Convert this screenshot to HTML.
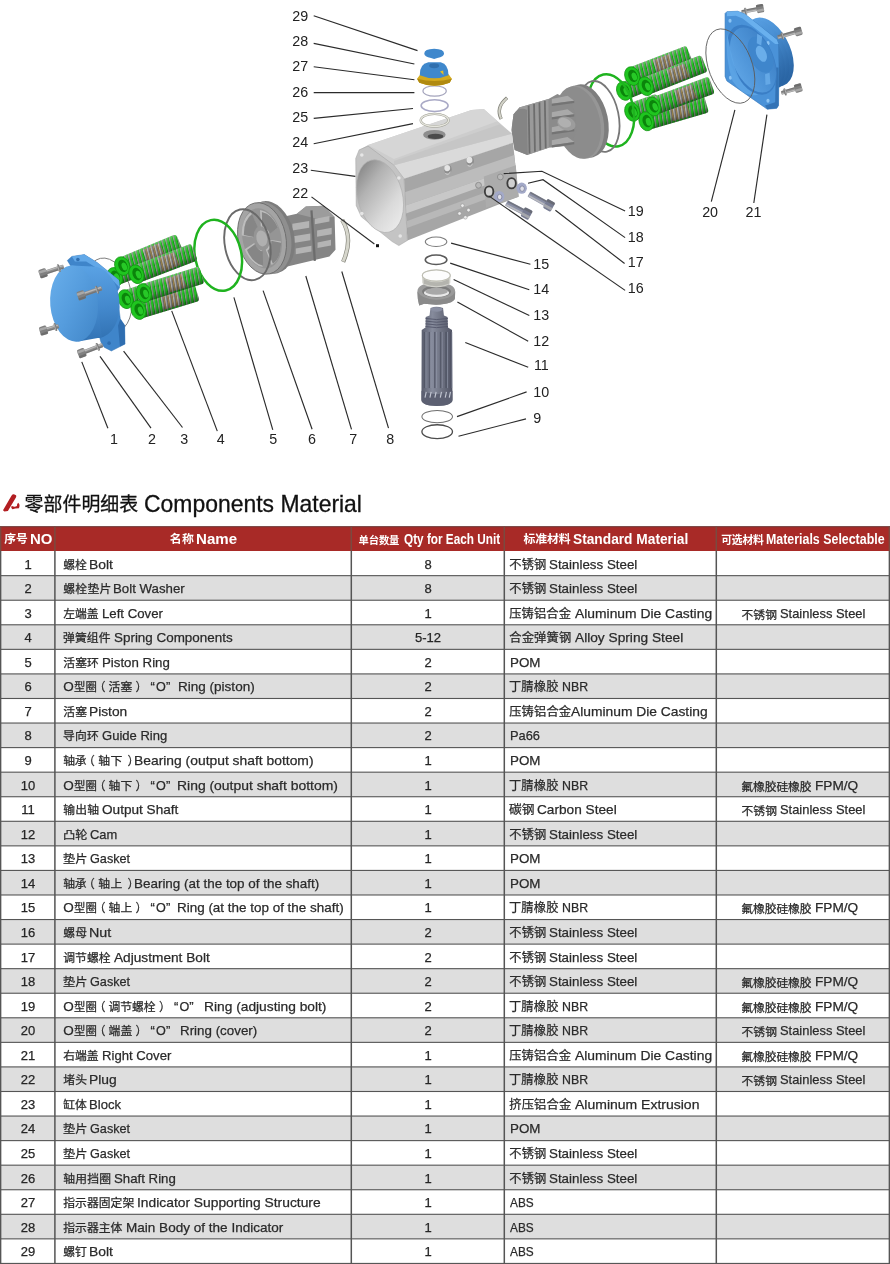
<!DOCTYPE html>
<html lang="zh-CN"><head><meta charset="utf-8"><title>零部件明细表 Components Material</title>
<style>
html,body{margin:0;padding:0;background:#fff}
body{width:890px;height:1264px;position:relative;overflow:hidden;font-family:"Liberation Sans","Noto Sans CJK SC",sans-serif;color:#222}
#diagram{position:absolute;left:0;top:0;width:890px;height:480px}
#grid{position:absolute;left:0;top:0;width:890px;height:1264px}
.s{position:absolute;white-space:pre;line-height:16px;color:#2a2a2a;transform-origin:0 50%;-webkit-text-stroke:0.25px #2a2a2a}
.n{position:absolute;white-space:pre;line-height:16px;color:#262626;font-size:13px;text-align:center;-webkit-text-stroke:0.25px #262626}
.h{position:absolute;white-space:pre;line-height:16px;color:#fff;font-weight:bold;transform-origin:0 50%}
.tt{position:absolute;white-space:pre;line-height:16px;color:#111;transform-origin:0 50%;-webkit-text-stroke:0.3px #111}
.row,.hdr,.ttl{position:absolute;left:0;top:0}
#sheet{position:absolute;left:0;top:0;width:890px;height:1264px;will-change:transform}
</style></head><body><div id="sheet">
<svg id="diagram" width="890" height="480" viewBox="0 0 890 480">
<defs>
<linearGradient id="gBlueFace" x1="0" y1="0" x2="1" y2="1">
 <stop offset="0" stop-color="#6ab0ec"/><stop offset="0.5" stop-color="#559cdd"/><stop offset="1" stop-color="#3f84c6"/>
</linearGradient>
<linearGradient id="gBlueSide" x1="0" y1="0" x2="0" y2="1">
 <stop offset="0" stop-color="#5aa2e4"/><stop offset="0.6" stop-color="#4388cc"/><stop offset="1" stop-color="#3273b4"/>
</linearGradient>
<linearGradient id="gBlueCyl" x1="0" y1="0" x2="1" y2="0.6">
 <stop offset="0" stop-color="#62aaec"/><stop offset="0.55" stop-color="#4a90d4"/><stop offset="1" stop-color="#2a65a4"/>
</linearGradient>
<linearGradient id="gBlueCav" x1="0" y1="1" x2="1" y2="0">
 <stop offset="0" stop-color="#62a8e8"/><stop offset="0.5" stop-color="#4c92d6"/><stop offset="1" stop-color="#3a7cc2"/>
</linearGradient>
<linearGradient id="gBore" x1="0.25" y1="0" x2="0.75" y2="1">
 <stop offset="0" stop-color="#848484"/><stop offset="0.3" stop-color="#b2b2b2"/><stop offset="0.7" stop-color="#dadada"/><stop offset="1" stop-color="#ececec"/>
</linearGradient>
<linearGradient id="gShaft" x1="0" y1="0" x2="1" y2="0">
 <stop offset="0" stop-color="#5a5e6e"/><stop offset="0.35" stop-color="#868b9c"/><stop offset="0.7" stop-color="#6a6e7e"/><stop offset="1" stop-color="#525566"/>
</linearGradient>
<linearGradient id="gPiston" x1="0" y1="0" x2="1" y2="1">
 <stop offset="0" stop-color="#a9a9a9"/><stop offset="1" stop-color="#7d7d7d"/>
</linearGradient>
<pattern id="pCoil" width="18" height="10" patternUnits="userSpaceOnUse" patternTransform="skewX(-8)">
 <rect x="0" y="0" width="18" height="10" fill="#585858"/>
 <rect x="0" y="0" width="3" height="10" fill="#d0d0d0"/>
 <rect x="3" y="0" width="5" height="10" fill="#8c8c8c"/>
 <rect x="12" y="0" width="4" height="10" fill="#b8923c"/>
</pattern>
<pattern id="pCoilG" width="18" height="10" patternUnits="userSpaceOnUse" patternTransform="skewX(-8)">
 <rect x="0" y="0" width="18" height="10" fill="#1fc01f"/>
 <rect x="0" y="0" width="2.5" height="10" fill="#b8b8b8"/>
 <rect x="2.5" y="0" width="4.5" height="10" fill="#747474"/>
 <rect x="15.5" y="0" width="2.5" height="10" fill="#0f800f"/>
</pattern>
<linearGradient id="gCoilShade" x1="0" y1="0" x2="0" y2="1">
 <stop offset="0" stop-color="#fff" stop-opacity="0.25"/><stop offset="0.35" stop-color="#fff" stop-opacity="0"/>
 <stop offset="0.7" stop-color="#000" stop-opacity="0.1"/><stop offset="1" stop-color="#000" stop-opacity="0.4"/>
</linearGradient>
</defs>
<g transform="translate(610,0) scale(0.22472)"><circle r="1" transform="matrix(108.30,58.42,2.85,141.07,709.50,230.50)" fill="url(#gBlueCyl)"/>
<circle r="1" transform="matrix(108.30,58.42,2.85,141.07,690.00,239.25)" fill="url(#gBlueCyl)"/>
<circle r="1" transform="matrix(108.30,58.42,2.85,141.07,670.50,248.00)" fill="url(#gBlueCyl)"/>
<circle r="1" transform="matrix(108.30,58.42,2.85,141.07,651.00,256.75)" fill="url(#gBlueCyl)"/>
<circle r="1" transform="matrix(108.30,58.42,2.85,141.07,631.50,265.50)" fill="url(#gBlueCyl)"/>
<g transform="translate(668,38) rotate(169.089)"><rect x="0" y="-8.5" width="84.5281" height="17" rx="4" fill="#8e8e8e"/><rect x="0" y="-6.5" width="81.5281" height="5.1" fill="#c8c8c8" opacity="0.75"/><rect x="0" y="3.4" width="81.5281" height="5.1" fill="#555" opacity="0.45"/><rect x="60.8602" y="-16.15" width="9" height="32.3" rx="4" fill="#7a7a7a"/><rect x="60.8602" y="-14.45" width="4" height="28.9" rx="2" fill="#b0b0b0"/><rect x="-16.15" y="-19" width="32.3" height="38" rx="7" fill="#808080"/><rect x="-16.15" y="-13.3" width="32.3" height="10.45" rx="3" fill="#b8b8b8" opacity="0.7"/><rect x="-16.15" y="8.55" width="32.3" height="9.5" rx="3" fill="#5a5a5a" opacity="0.5"/></g>
<g transform="translate(838,140) rotate(164.381)"><rect x="0" y="-8.5" width="96.566" height="17" rx="4" fill="#8e8e8e"/><rect x="0" y="-6.5" width="93.566" height="5.1" fill="#c8c8c8" opacity="0.75"/><rect x="0" y="3.4" width="93.566" height="5.1" fill="#555" opacity="0.45"/><rect x="69.5275" y="-16.15" width="9" height="32.3" rx="4" fill="#7a7a7a"/><rect x="69.5275" y="-14.45" width="4" height="28.9" rx="2" fill="#b0b0b0"/><rect x="-16.15" y="-19" width="32.3" height="38" rx="7" fill="#808080"/><rect x="-16.15" y="-13.3" width="32.3" height="10.45" rx="3" fill="#b8b8b8" opacity="0.7"/><rect x="-16.15" y="8.55" width="32.3" height="9.5" rx="3" fill="#5a5a5a" opacity="0.5"/></g>
<g transform="translate(838,392) rotate(163.856)"><rect x="0" y="-8.5" width="79.1202" height="17" rx="4" fill="#8e8e8e"/><rect x="0" y="-6.5" width="76.1202" height="5.1" fill="#c8c8c8" opacity="0.75"/><rect x="0" y="3.4" width="76.1202" height="5.1" fill="#555" opacity="0.45"/><rect x="56.9665" y="-16.15" width="9" height="32.3" rx="4" fill="#7a7a7a"/><rect x="56.9665" y="-14.45" width="4" height="28.9" rx="2" fill="#b0b0b0"/><rect x="-16.15" y="-19" width="32.3" height="38" rx="7" fill="#808080"/><rect x="-16.15" y="-13.3" width="32.3" height="10.45" rx="3" fill="#b8b8b8" opacity="0.7"/><rect x="-16.15" y="8.55" width="32.3" height="9.5" rx="3" fill="#5a5a5a" opacity="0.5"/></g>
<path d="M512,60 L520,52 L568,50 L600,62 L742,176 L750,196 L752,300 L750,470 L742,482 L700,486 L520,360 L512,340 Z" fill="#4a92d8" stroke="#3576b8" stroke-width="2.5" stroke-linejoin="round"/>
<path d="M520,52 L568,50 L600,62 L742,176 L750,196 L735,196 L590,82 L560,70 L520,72 Z" fill="#69b0ee"/>
<path d="M750,300 L750,470 L742,482 L700,486 L690,470 L735,455 L738,300 Z" fill="#3373b6"/>
<ellipse cx="534" cy="92" rx="7" ry="9" fill="#8cc4f4"/>
<ellipse cx="703" cy="192" rx="7" ry="9" fill="#8cc4f4"/>
<ellipse cx="703" cy="448" rx="7" ry="9" fill="#8cc4f4"/>
<ellipse cx="536" cy="346" rx="7" ry="9" fill="#8cc4f4"/>
<circle r="1" transform="matrix(110.58,59.66,2.91,144.04,631.50,265.50)" fill="#3a7ec6"/>
<circle r="1" transform="matrix(102.60,55.35,2.70,133.65,636.50,267.50)" fill="url(#gBlueCav)"/>
<circle r="1" transform="matrix(57.00,30.75,1.50,74.25,669.50,243.50)" fill="#3f86cc"/>
<circle r="1" transform="matrix(25.08,13.53,0.66,32.67,673.50,239.50)" fill="#6aaeea"/>
<path d="M655,150 l22,12 l-4,40 l-20,-10 Z" fill="#64a8e6"/>
<path d="M690,330 l20,-6 l4,50 l-22,4 Z" fill="#64a8e6"/>
<path d="M521,150 Q512,260 545,360 Q600,440 660,420 Q585,400 556,300 Q535,220 521,150 Z" fill="#5ea6e6" opacity="0.85"/>
<circle r="1" transform="matrix(109.00,58.00,3.00,155.00,535.50,294.00)" fill="none" stroke="#5c5c5c" stroke-width="0.028"/>
<g transform="translate(63,404.75) rotate(-21.78)"><rect x="0" y="-40" width="115.224" height="80" rx="14" fill="url(#pCoilG)"/><rect x="0" y="-40" width="115.224" height="80" rx="14" fill="url(#gCoilShade)"/><ellipse cx="0" cy="0" rx="32.68" ry="43" fill="#1fc51f" stroke="#128f12" stroke-width="3"/><ellipse cx="3" cy="0" rx="19.78" ry="28.38" fill="#0b840b"/><ellipse cx="8" cy="5" rx="11.18" ry="18.06" fill="#27c827"/></g>
<g transform="translate(99,338.75) rotate(-21.22)"><rect x="0" y="-40" width="273.543" height="80" rx="14" fill="url(#pCoilG)"/><rect x="109.417" y="-32" width="82.063" height="64" fill="url(#pCoil)"/><rect x="0" y="-40" width="273.543" height="80" rx="14" fill="url(#gCoilShade)"/><ellipse cx="0" cy="0" rx="32.68" ry="43" fill="#1fc51f" stroke="#128f12" stroke-width="3"/><ellipse cx="3" cy="0" rx="19.78" ry="28.38" fill="#0b840b"/><ellipse cx="8" cy="5" rx="11.18" ry="18.06" fill="#27c827"/></g>
<g transform="translate(99,497.75) rotate(-19.46)"><rect x="0" y="-40" width="128.33" height="80" rx="14" fill="url(#pCoilG)"/><rect x="0" y="-40" width="128.33" height="80" rx="14" fill="url(#gCoilShade)"/><ellipse cx="0" cy="0" rx="32.68" ry="43" fill="#1fc51f" stroke="#128f12" stroke-width="3"/><ellipse cx="3" cy="0" rx="19.78" ry="28.38" fill="#0b840b"/><ellipse cx="8" cy="5" rx="11.18" ry="18.06" fill="#27c827"/></g>
<g transform="translate(159,383.75) rotate(-21.35)"><rect x="0" y="-40" width="280.223" height="80" rx="14" fill="url(#pCoilG)"/><rect x="112.089" y="-32" width="84.0669" height="64" fill="url(#pCoil)"/><rect x="0" y="-40" width="280.223" height="80" rx="14" fill="url(#gCoilShade)"/><ellipse cx="0" cy="0" rx="32.68" ry="43" fill="#1fc51f" stroke="#128f12" stroke-width="3"/><ellipse cx="3" cy="0" rx="19.78" ry="28.38" fill="#0b840b"/><ellipse cx="8" cy="5" rx="11.18" ry="18.06" fill="#27c827"/></g>
<g transform="translate(162,539.75) rotate(-16.28)"><rect x="0" y="-40" width="278.16" height="80" rx="14" fill="url(#pCoilG)"/><rect x="111.264" y="-32" width="83.448" height="64" fill="url(#pCoil)"/><rect x="0" y="-40" width="278.16" height="80" rx="14" fill="url(#gCoilShade)"/><ellipse cx="0" cy="0" rx="32.68" ry="43" fill="#1fc51f" stroke="#128f12" stroke-width="3"/><ellipse cx="3" cy="0" rx="19.78" ry="28.38" fill="#0b840b"/><ellipse cx="8" cy="5" rx="11.18" ry="18.06" fill="#27c827"/></g>
<g transform="translate(192,473.75) rotate(-20.19)"><rect x="0" y="-40" width="278.095" height="80" rx="14" fill="url(#pCoilG)"/><rect x="111.238" y="-32" width="83.4286" height="64" fill="url(#pCoil)"/><rect x="0" y="-40" width="278.095" height="80" rx="14" fill="url(#gCoilShade)"/><ellipse cx="0" cy="0" rx="32.68" ry="43" fill="#1fc51f" stroke="#128f12" stroke-width="3"/><ellipse cx="3" cy="0" rx="19.78" ry="28.38" fill="#0b840b"/><ellipse cx="8" cy="5" rx="11.18" ry="18.06" fill="#27c827"/></g></g>
<g transform="translate(490,40) scale(0.22472)"><path d="M76,257 Q24,300 50,352" fill="none" stroke="#808078" stroke-width="15"/>
<path d="M75,259 Q25,300 50,350" fill="none" stroke="#d2d2c8" stroke-width="9"/>
<ellipse cx="538" cy="313" rx="100" ry="163" transform="rotate(-12 538 313)" fill="none" stroke="#1fb31f" stroke-width="11"/>
<ellipse cx="487" cy="340" rx="85" ry="160" transform="rotate(-12 487 340)" fill="none" stroke="#777" stroke-width="8"/>
<ellipse cx="425" cy="360" rx="100" ry="165" transform="rotate(-12 425 360)" fill="#7e7e7e"/>
<ellipse cx="405" cy="365" rx="100" ry="165" transform="rotate(-12 405 365)" fill="#969696"/>
<ellipse cx="392" cy="368" rx="98" ry="163" transform="rotate(-12 392 368)" fill="#8c8c8c"/>
<path d="M105,330 L130,300 L260,262 L300,240 L360,270 L380,330 L385,400 L360,470 L260,480 L165,512 L110,490 L95,400 Z" fill="#8b8b8b"/>
<path d="M130,300 L260,262 L262,480 L165,512 L150,400 Z" fill="#9a9a9a"/>
<path d="M172,292 L176,505" stroke="#6d6d6d" stroke-width="8"/>
<path d="M196,284.8 L200,497.08" stroke="#6d6d6d" stroke-width="8"/>
<path d="M220,277.6 L224,489.16" stroke="#6d6d6d" stroke-width="8"/>
<path d="M244,270.4 L248,481.24" stroke="#6d6d6d" stroke-width="8"/>
<path d="M105,330 Q130,295 165,310 L168,512 L110,490 Q90,410 105,330 Z" fill="#858585"/>
<path d="M275,262 l70,-14 l30,22 l-100,14 Z" fill="#a9a9a9"/>
<path d="M275,284 l100,-14 l0,10 l-100,14 Z" fill="#747474"/>
<path d="M275,322 l70,-14 l30,22 l-100,14 Z" fill="#a9a9a9"/>
<path d="M275,344 l100,-14 l0,10 l-100,14 Z" fill="#747474"/>
<path d="M275,388 l70,-14 l30,22 l-100,14 Z" fill="#a9a9a9"/>
<path d="M275,410 l100,-14 l0,10 l-100,14 Z" fill="#747474"/>
<path d="M275,446 l70,-14 l30,22 l-100,14 Z" fill="#a9a9a9"/>
<path d="M275,468 l100,-14 l0,10 l-100,14 Z" fill="#747474"/>
<ellipse cx="340" cy="372" rx="42" ry="30" transform="rotate(20 340 372)" fill="#9c9c9c"/>
<ellipse cx="332" cy="368" rx="30" ry="20" transform="rotate(20 332 368)" fill="#b0b0b0"/></g>
<g transform="translate(340,100) scale(0.22472)"><path d="M85,222 L125,200 L585,45 L640,40 L765,150 L770,190 L285,350 L240,290 Z" fill="#cdcdcd"/>
<path d="M125,200 L585,45 L640,40 L700,95 L240,262 Z" fill="#d6d6d6"/>
<path d="M240,290 L765,150 L770,190 L285,350 Z" fill="#dadada"/>
<path d="M240,272 L712,108 L765,150 L240,290 Z" fill="#c6c6c6"/>
<path d="M285,350 L770,190 L795,430 L300,625 Z" fill="#a6a6a6"/>
<path d="M288,410 L775,245 L782,300 L292,470 Z" fill="#bcbcbc"/>
<path d="M292,470 L782,300 L786,330 L294,505 Z" fill="#c8c8c8"/>
<path d="M296,540 L650,410 L652,440 L298,570 Z" fill="#b8b8b8"/>
<path d="M640,340 L782,290 L795,430 L650,480 Z" fill="#acacac"/>
<path d="M85,222 L125,205 L240,290 L285,350 L300,625 L262,648 L232,630 L95,520 L72,470 L70,260 Z" fill="#c4c4c4" stroke="#9a9a9a" stroke-width="2"/>
<ellipse cx="178" cy="428" rx="100" ry="165" transform="rotate(-14 178 428)" fill="url(#gBore)" stroke="#b0b0b0" stroke-width="3"/>
<ellipse cx="420" cy="155" rx="50" ry="22" fill="#8e8e8e"/>
<ellipse cx="425" cy="162" rx="35" ry="12" fill="#4a4a4a"/>
<ellipse cx="480" cy="308" rx="17" ry="19" fill="#8e8e8e"/>
<ellipse cx="477" cy="303" rx="13" ry="14" fill="#e4e4e4"/>
<path d="M469,327 q14,10 22,-8" stroke="#d8d8d8" stroke-width="4" fill="none"/>
<ellipse cx="579" cy="272" rx="17" ry="19" fill="#8e8e8e"/>
<ellipse cx="576" cy="267" rx="13" ry="14" fill="#e4e4e4"/>
<path d="M568,291 q14,10 22,-8" stroke="#d8d8d8" stroke-width="4" fill="none"/>
<circle cx="532" cy="505" r="8" fill="#ececec" stroke="#909090" stroke-width="2.5"/>
<circle cx="572" cy="490" r="8" fill="#ececec" stroke="#909090" stroke-width="2.5"/>
<circle cx="545" cy="470" r="8" fill="#ececec" stroke="#909090" stroke-width="2.5"/>
<circle cx="558" cy="522" r="8" fill="#ececec" stroke="#909090" stroke-width="2.5"/>
<circle cx="97" cy="245" r="8" fill="#e6e6e6"/>
<circle cx="262" cy="347" r="8" fill="#e6e6e6"/>
<circle cx="97" cy="505" r="8" fill="#e6e6e6"/>
<circle cx="268" cy="605" r="8" fill="#e6e6e6"/></g>
<g transform="translate(280,0) scale(0.22472)"><ellipse cx="688" cy="535" rx="62" ry="28" fill="none" stroke="#9b9b90" stroke-width="10"/>
<ellipse cx="688" cy="535" rx="62" ry="28" fill="none" stroke="#e6e6de" stroke-width="6"/>
<ellipse cx="688" cy="470" rx="60" ry="26" fill="none" stroke="#a9a9c6" stroke-width="7"/>
<ellipse cx="688" cy="405" rx="52" ry="23" fill="none" stroke="#a4a4bc" stroke-width="5"/>
<path d="M610,350 L625,330 L750,330 L765,350 L755,368 Q688,395 620,368 Z" fill="#d4aa1e"/>
<path d="M610,350 Q688,372 765,350 L755,368 Q688,395 620,368 Z" fill="#b08a10"/>
<path d="M622,335 Q620,285 660,277 L715,277 Q750,285 750,335 Q688,362 622,335 Z" fill="#3f88cc"/>
<ellipse cx="686" cy="293" rx="22" ry="11" fill="#2f6fae"/>
<path d="M712,318 l14,-4 l2,20 Z" fill="#e8c020"/>
<path d="M642,238 Q642,218 686,217 Q730,218 730,238 Q730,252 700,258 L686,262 L672,258 Q642,252 642,238 Z" fill="#3f88cc"/></g>
<g transform="translate(180,180) scale(0.22472)"><path d="M722,178 Q772,262 726,364" fill="none" stroke="#84847a" stroke-width="19"/>
<path d="M722,180 Q772,262 726,362" fill="none" stroke="#d6d6cc" stroke-width="13"/>
<path d="M455,165 L520,150 L560,118 L640,115 L688,165 L692,310 L665,340 L515,376 L455,390 Z" fill="#858585"/>
<path d="M520,150 L560,118 L640,115 L688,165 L600,170 Z" fill="#9c9c9c"/>
<path d="M500,195 l75,-12 l0,30 l-75,12 Z" fill="#b4b4b4"/>
<path d="M505,250 l75,-12 l0,30 l-75,12 Z" fill="#b4b4b4"/>
<path d="M515,305 l70,-12 l0,25 l-70,12 Z" fill="#b4b4b4"/>
<path d="M600,172 l65,-12 l0,25 l-65,12 Z" fill="#b4b4b4"/>
<path d="M610,225 l65,-12 l0,28 l-65,12 Z" fill="#b4b4b4"/>
<path d="M612,278 l60,-12 l0,25 l-60,12 Z" fill="#b4b4b4"/>
<path d="M585,135 L600,360" stroke="#6c6c6c" stroke-width="10" fill="none"/>
<ellipse cx="400" cy="255" rx="108" ry="163" transform="rotate(-12 400 255)" fill="#7c7c7c"/>
<ellipse cx="385" cy="258" rx="108" ry="163" transform="rotate(-12 385 258)" fill="#8f8f8f"/>
<ellipse cx="365" cy="260" rx="106" ry="161" transform="rotate(-12 365 260)" fill="#a4a4a4" stroke="#6e6e6e" stroke-width="4"/>
<ellipse cx="365" cy="260" rx="86" ry="136" transform="rotate(-12 365 260)" fill="#959595"/>
<ellipse cx="364" cy="260" rx="24" ry="36" transform="rotate(-12 364 260)" fill="#b0b0b0"/>
<path d="M0.330,0.082 L0.776,0.194 A0.800,0.800 0 0 1 0.194,0.776 L0.082,0.330 A0.340,0.340 0 0 0 0.330,0.082 Z" transform="matrix(103.7,-22,33.5,157.5,362,260)" fill="#bdbdbd"/>
<path d="M0.346,0.099 L0.731,0.209 A0.760,0.760 0 0 1 0.209,0.731 L0.099,0.346 A0.360,0.360 0 0 0 0.346,0.099 Z" transform="matrix(103.7,-22,33.5,157.5,367,262)" fill="#868686"/>
<path d="M-0.082,0.330 L-0.194,0.776 A0.800,0.800 0 0 1 -0.776,0.194 L-0.330,0.082 A0.340,0.340 0 0 0 -0.082,0.330 Z" transform="matrix(103.7,-22,33.5,157.5,362,260)" fill="#bdbdbd"/>
<path d="M-0.099,0.346 L-0.209,0.731 A0.760,0.760 0 0 1 -0.731,0.209 L-0.346,0.099 A0.360,0.360 0 0 0 -0.099,0.346 Z" transform="matrix(103.7,-22,33.5,157.5,367,262)" fill="#868686"/>
<path d="M-0.330,-0.082 L-0.776,-0.194 A0.800,0.800 0 0 1 -0.194,-0.776 L-0.082,-0.330 A0.340,0.340 0 0 0 -0.330,-0.082 Z" transform="matrix(103.7,-22,33.5,157.5,362,260)" fill="#bdbdbd"/>
<path d="M-0.346,-0.099 L-0.731,-0.209 A0.760,0.760 0 0 1 -0.209,-0.731 L-0.099,-0.346 A0.360,0.360 0 0 0 -0.346,-0.099 Z" transform="matrix(103.7,-22,33.5,157.5,367,262)" fill="#868686"/>
<path d="M0.082,-0.330 L0.194,-0.776 A0.800,0.800 0 0 1 0.776,-0.194 L0.330,-0.082 A0.340,0.340 0 0 0 0.082,-0.330 Z" transform="matrix(103.7,-22,33.5,157.5,362,260)" fill="#bdbdbd"/>
<path d="M0.099,-0.346 L0.209,-0.731 A0.760,0.760 0 0 1 0.731,-0.209 L0.346,-0.099 A0.360,0.360 0 0 0 0.099,-0.346 Z" transform="matrix(103.7,-22,33.5,157.5,367,262)" fill="#868686"/>
<ellipse cx="300" cy="288" rx="100" ry="160" transform="rotate(-12 300 288)" fill="none" stroke="#6a6a6a" stroke-width="8.5"/>
<ellipse cx="170" cy="335" rx="103" ry="160" transform="rotate(-12 170 335)" fill="none" stroke="#1fb31f" stroke-width="11"/></g>
<g transform="translate(30,220) scale(0.22472)"><ellipse cx="348" cy="335" rx="103" ry="168" transform="rotate(-12 348 335)" fill="none" stroke="#7a7a7a" stroke-width="4"/>
<g transform="translate(377.5,253.3) rotate(-21.95)"><rect x="0" y="-40" width="110.508" height="80" rx="14" fill="url(#pCoilG)"/><rect x="0" y="-40" width="110.508" height="80" rx="14" fill="url(#gCoilShade)"/><ellipse cx="0" cy="0" rx="32.68" ry="43" fill="#1fc51f" stroke="#128f12" stroke-width="3"/><ellipse cx="3" cy="0" rx="19.78" ry="28.38" fill="#0b840b"/><ellipse cx="8" cy="5" rx="11.18" ry="18.06" fill="#27c827"/></g>
<g transform="translate(410.5,205.3) rotate(-22.44)"><rect x="0" y="-40" width="275.886" height="80" rx="14" fill="url(#pCoilG)"/><rect x="110.354" y="-32" width="82.7658" height="64" fill="url(#pCoil)"/><rect x="0" y="-40" width="275.886" height="80" rx="14" fill="url(#gCoilShade)"/><ellipse cx="0" cy="0" rx="32.68" ry="43" fill="#1fc51f" stroke="#128f12" stroke-width="3"/><ellipse cx="3" cy="0" rx="19.78" ry="28.38" fill="#0b840b"/><ellipse cx="8" cy="5" rx="11.18" ry="18.06" fill="#27c827"/></g>
<g transform="translate(425.5,352.3) rotate(-18.04)"><rect x="0" y="-40" width="120.422" height="80" rx="14" fill="url(#pCoilG)"/><rect x="0" y="-40" width="120.422" height="80" rx="14" fill="url(#gCoilShade)"/><ellipse cx="0" cy="0" rx="32.68" ry="43" fill="#1fc51f" stroke="#128f12" stroke-width="3"/><ellipse cx="3" cy="0" rx="19.78" ry="28.38" fill="#0b840b"/><ellipse cx="8" cy="5" rx="11.18" ry="18.06" fill="#27c827"/></g>
<g transform="translate(473.5,241.3) rotate(-21.05)"><rect x="0" y="-40" width="276.45" height="80" rx="14" fill="url(#pCoilG)"/><rect x="110.58" y="-32" width="82.9349" height="64" fill="url(#pCoil)"/><rect x="0" y="-40" width="276.45" height="80" rx="14" fill="url(#gCoilShade)"/><ellipse cx="0" cy="0" rx="32.68" ry="43" fill="#1fc51f" stroke="#128f12" stroke-width="3"/><ellipse cx="3" cy="0" rx="19.78" ry="28.38" fill="#0b840b"/><ellipse cx="8" cy="5" rx="11.18" ry="18.06" fill="#27c827"/></g>
<g transform="translate(482.5,400.3) rotate(-16.70)"><rect x="0" y="-40" width="272.492" height="80" rx="14" fill="url(#pCoilG)"/><rect x="108.997" y="-32" width="81.7476" height="64" fill="url(#pCoil)"/><rect x="0" y="-40" width="272.492" height="80" rx="14" fill="url(#gCoilShade)"/><ellipse cx="0" cy="0" rx="32.68" ry="43" fill="#1fc51f" stroke="#128f12" stroke-width="3"/><ellipse cx="3" cy="0" rx="19.78" ry="28.38" fill="#0b840b"/><ellipse cx="8" cy="5" rx="11.18" ry="18.06" fill="#27c827"/></g>
<g transform="translate(506.5,325.3) rotate(-17.49)"><rect x="0" y="-40" width="270.506" height="80" rx="14" fill="url(#pCoilG)"/><rect x="108.203" y="-32" width="81.1519" height="64" fill="url(#pCoil)"/><rect x="0" y="-40" width="270.506" height="80" rx="14" fill="url(#gCoilShade)"/><ellipse cx="0" cy="0" rx="32.68" ry="43" fill="#1fc51f" stroke="#128f12" stroke-width="3"/><ellipse cx="3" cy="0" rx="19.78" ry="28.38" fill="#0b840b"/><ellipse cx="8" cy="5" rx="11.18" ry="18.06" fill="#27c827"/></g>
<path d="M166,180 L186,162 L242,154 L300,190 L396,268 L399,300 L386,322 L402,440 L421,468 L423,552 L362,583 L330,566 L316,545 L250,300 L200,235 Z" fill="#3f85ca" stroke="#2f6fb0" stroke-width="2"/>
<path d="M186,162 L242,154 L300,190 L396,268 L399,300 L340,240 L250,185 L200,185 Z" fill="#62a8e8"/>
<path d="M402,440 L421,468 L423,552 L400,563 L392,470 Z" fill="#2f6eb0"/>
<circle cx="213" cy="176" r="8" fill="#2f6eb0"/>
<circle cx="352" cy="548" r="8" fill="#2f6eb0"/>
<circle cx="362" cy="282" r="8" fill="#2f6eb0"/>
<ellipse cx="290" cy="366" rx="108" ry="160" transform="rotate(-6 290 366)" fill="url(#gBlueSide)"/>
<path d="M185,203 L275,207 L320,522 L215,541 Z" fill="url(#gBlueSide)"/>
<ellipse cx="196" cy="372" rx="106" ry="170" transform="rotate(-5 196 372)" fill="url(#gBlueFace)"/>
<g transform="translate(58,237) rotate(-18.0605)"><rect x="0" y="-9.5" width="96.7678" height="19" rx="4" fill="#8e8e8e"/><rect x="0" y="-7.5" width="93.7678" height="5.7" fill="#c8c8c8" opacity="0.75"/><rect x="0" y="3.8" width="93.7678" height="5.7" fill="#555" opacity="0.45"/><rect x="69.6728" y="-18.05" width="9" height="36.1" rx="4" fill="#7a7a7a"/><rect x="69.6728" y="-16.15" width="4" height="32.3" rx="2" fill="#b0b0b0"/><rect x="-17" y="-20" width="34" height="40" rx="7" fill="#808080"/><rect x="-17" y="-14" width="34" height="11" rx="3" fill="#b8b8b8" opacity="0.7"/><rect x="-17" y="9" width="34" height="10" rx="3" fill="#5a5a5a" opacity="0.5"/></g>
<g transform="translate(228,335) rotate(-19.179)"><rect x="0" y="-9.5" width="97.4064" height="19" rx="4" fill="#8e8e8e"/><rect x="0" y="-7.5" width="94.4064" height="5.7" fill="#c8c8c8" opacity="0.75"/><rect x="0" y="3.8" width="94.4064" height="5.7" fill="#555" opacity="0.45"/><rect x="70.1326" y="-18.05" width="9" height="36.1" rx="4" fill="#7a7a7a"/><rect x="70.1326" y="-16.15" width="4" height="32.3" rx="2" fill="#b0b0b0"/><rect x="-17" y="-20" width="34" height="40" rx="7" fill="#808080"/><rect x="-17" y="-14" width="34" height="11" rx="3" fill="#b8b8b8" opacity="0.7"/><rect x="-17" y="9" width="34" height="10" rx="3" fill="#5a5a5a" opacity="0.5"/></g>
<g transform="translate(60,492) rotate(-16.3895)"><rect x="0" y="-9.5" width="70.8802" height="19" rx="4" fill="#8e8e8e"/><rect x="0" y="-7.5" width="67.8802" height="5.7" fill="#c8c8c8" opacity="0.75"/><rect x="0" y="3.8" width="67.8802" height="5.7" fill="#555" opacity="0.45"/><rect x="51.0337" y="-18.05" width="9" height="36.1" rx="4" fill="#7a7a7a"/><rect x="51.0337" y="-16.15" width="4" height="32.3" rx="2" fill="#b0b0b0"/><rect x="-17" y="-20" width="34" height="40" rx="7" fill="#808080"/><rect x="-17" y="-14" width="34" height="11" rx="3" fill="#b8b8b8" opacity="0.7"/><rect x="-17" y="9" width="34" height="10" rx="3" fill="#5a5a5a" opacity="0.5"/></g>
<g transform="translate(230,592) rotate(-20.9558)"><rect x="0" y="-9.5" width="100.658" height="19" rx="4" fill="#8e8e8e"/><rect x="0" y="-7.5" width="97.6578" height="5.7" fill="#c8c8c8" opacity="0.75"/><rect x="0" y="3.8" width="97.6578" height="5.7" fill="#555" opacity="0.45"/><rect x="72.4736" y="-18.05" width="9" height="36.1" rx="4" fill="#7a7a7a"/><rect x="72.4736" y="-16.15" width="4" height="32.3" rx="2" fill="#b0b0b0"/><rect x="-17" y="-20" width="34" height="40" rx="7" fill="#808080"/><rect x="-17" y="-14" width="34" height="11" rx="3" fill="#b8b8b8" opacity="0.7"/><rect x="-17" y="9" width="34" height="10" rx="3" fill="#5a5a5a" opacity="0.5"/></g></g>
<g transform="translate(390,220) scale(0.22472)"><ellipse cx="205" cy="97" rx="48" ry="21" fill="none" stroke="#7a7a7a" stroke-width="4.5"/>
<ellipse cx="205" cy="177" rx="48" ry="21" fill="none" stroke="#5a5a5a" stroke-width="7"/>
<path d="M122,318 Q122,280 205,278 Q290,280 290,318 L289,348 Q282,374 205,377 L152,373 L130,381 L124,352 Z" fill="#9a9a9a"/>
<path d="M122,318 Q140,352 205,355 Q275,352 290,318 L289,348 Q282,374 205,377 L152,373 L130,381 L124,352 Z" fill="#8a8a8a"/>
<ellipse cx="207" cy="318" rx="64" ry="27" fill="#7c7c7c"/>
<ellipse cx="207" cy="324" rx="56" ry="19" fill="#e9e9e9"/>
<ellipse cx="207" cy="318" rx="50" ry="15" fill="#a8a8a8"/>
<path d="M142,246 Q142,222 206,221 Q270,222 270,246 L268,282 Q250,300 206,300 Q160,300 144,282 Z" fill="#d2d2cc"/>
<path d="M150,262 Q206,292 262,262 L262,284 Q206,306 150,284 Z" fill="#b4b4ae"/>
<ellipse cx="206" cy="247" rx="62" ry="25" fill="#fdfdfd" stroke="#bdbdb2" stroke-width="5"/>
<path d="M180,392 Q205,380 236,392 L240,425 L256,432 L258,478 L276,490 L278,800 Q278,826 208,828 Q140,826 140,800 L141,490 L158,478 L159,432 L176,425 Z" fill="url(#gShaft)"/>
<path d="M158,438 Q207,448 258,438" stroke="#52566a" stroke-width="4" fill="none"/>
<path d="M158,450 Q207,460 258,450" stroke="#52566a" stroke-width="4" fill="none"/>
<path d="M158,462 Q207,472 258,462" stroke="#52566a" stroke-width="4" fill="none"/>
<path d="M158,474 Q207,484 258,474" stroke="#52566a" stroke-width="4" fill="none"/>
<rect x="150" y="498" width="7" height="250" fill="#4e5262" opacity="0.75"/>
<rect x="158" y="498" width="4" height="250" fill="#9aa0b2" opacity="0.6"/>
<rect x="172" y="498" width="7" height="250" fill="#4e5262" opacity="0.75"/>
<rect x="180" y="498" width="4" height="250" fill="#9aa0b2" opacity="0.6"/>
<rect x="196" y="498" width="7" height="250" fill="#4e5262" opacity="0.75"/>
<rect x="204" y="498" width="4" height="250" fill="#9aa0b2" opacity="0.6"/>
<rect x="222" y="498" width="7" height="250" fill="#4e5262" opacity="0.75"/>
<rect x="230" y="498" width="4" height="250" fill="#9aa0b2" opacity="0.6"/>
<rect x="246" y="498" width="7" height="250" fill="#4e5262" opacity="0.75"/>
<rect x="254" y="498" width="4" height="250" fill="#9aa0b2" opacity="0.6"/>
<rect x="266" y="498" width="7" height="250" fill="#4e5262" opacity="0.75"/>
<rect x="274" y="498" width="4" height="250" fill="#9aa0b2" opacity="0.6"/>
<path d="M140,760 Q208,790 278,760 L278,800 Q278,826 208,828 Q140,826 140,800 Z" fill="#5c6072"/>
<rect x="156" y="764" width="5" height="26" fill="#c4c8d4" transform="rotate(12 156 777)"/>
<rect x="178" y="764" width="5" height="26" fill="#c4c8d4" transform="rotate(12 178 777)"/>
<rect x="200" y="764" width="5" height="26" fill="#c4c8d4" transform="rotate(12 200 777)"/>
<rect x="224" y="764" width="5" height="26" fill="#c4c8d4" transform="rotate(12 224 777)"/>
<rect x="246" y="764" width="5" height="26" fill="#c4c8d4" transform="rotate(12 246 777)"/>
<rect x="264" y="764" width="5" height="26" fill="#c4c8d4" transform="rotate(12 264 777)"/>
<ellipse cx="208" cy="398" rx="26" ry="10" fill="#8a8fa2"/>
<ellipse cx="210" cy="875" rx="68" ry="27" fill="none" stroke="#6e6e6e" stroke-width="4.5"/>
<ellipse cx="210" cy="942" rx="68" ry="31" fill="none" stroke="#4c4c4c" stroke-width="6"/></g>
<g transform="translate(470,150) scale(0.22472)"><circle cx="135" cy="120" r="13" fill="#b8b8b8" stroke="#8a8a8a" stroke-width="4"/>
<circle cx="38" cy="157" r="13" fill="#b8b8b8" stroke="#8a8a8a" stroke-width="4"/>
<g transform="translate(352,246) rotate(-150.945)"><rect x="0" y="-13" width="102.956" height="26" rx="4" fill="#8b90a6"/><rect x="0" y="-11" width="99.9563" height="7.8" fill="#c8c8c8" opacity="0.75"/><rect x="0" y="5.2" width="99.9563" height="7.8" fill="#555" opacity="0.45"/><rect x="-19.55" y="-23" width="39.1" height="46" rx="7" fill="#777c92"/><rect x="-19.55" y="-16.1" width="39.1" height="12.65" rx="3" fill="#b8b8b8" opacity="0.7"/><rect x="-19.55" y="10.35" width="39.1" height="11.5" rx="3" fill="#5a5a5a" opacity="0.5"/></g>
<g transform="translate(252,283) rotate(-152.425)"><rect x="0" y="-13" width="101.533" height="26" rx="4" fill="#8b90a6"/><rect x="0" y="-11" width="98.5332" height="7.8" fill="#c8c8c8" opacity="0.75"/><rect x="0" y="5.2" width="98.5332" height="7.8" fill="#555" opacity="0.45"/><rect x="-19.55" y="-23" width="39.1" height="46" rx="7" fill="#777c92"/><rect x="-19.55" y="-16.1" width="39.1" height="12.65" rx="3" fill="#b8b8b8" opacity="0.7"/><rect x="-19.55" y="10.35" width="39.1" height="11.5" rx="3" fill="#5a5a5a" opacity="0.5"/></g>
<ellipse cx="185" cy="148" rx="19" ry="23" fill="#d0d0d0" stroke="#3c3c3c" stroke-width="8"/>
<ellipse cx="85" cy="185" rx="19" ry="23" fill="#d0d0d0" stroke="#3c3c3c" stroke-width="8"/>
<ellipse cx="230" cy="170" rx="23" ry="25" fill="#a3a9c8"/>
<ellipse cx="232" cy="172" rx="10" ry="12" fill="#e0e0e8" stroke="#70758e" stroke-width="3"/>
<ellipse cx="130" cy="207" rx="23" ry="25" fill="#a3a9c8"/>
<ellipse cx="132" cy="209" rx="10" ry="12" fill="#e0e0e8" stroke="#70758e" stroke-width="3"/></g>
<g stroke="#2b2b2b" stroke-width="1.15" fill="none" stroke-linecap="butt">
<line x1="81.8" y1="361.9" x2="107.9" y2="428.2"/>
<line x1="100.0" y1="356.3" x2="151.0" y2="428.2"/>
<line x1="123.6" y1="351.1" x2="182.5" y2="427.5"/>
<line x1="171.7" y1="310.9" x2="217.3" y2="431.1"/>
<line x1="233.9" y1="297.4" x2="272.8" y2="429.8"/>
<line x1="263.1" y1="290.6" x2="312.1" y2="429.3"/>
<line x1="305.8" y1="276.0" x2="351.5" y2="429.3"/>
<line x1="341.8" y1="271.5" x2="388.5" y2="428.2"/>
<line x1="458.5" y1="436.2" x2="526.0" y2="418.9"/>
<line x1="457.0" y1="416.6" x2="526.6" y2="391.9"/>
<line x1="465.3" y1="342.5" x2="528.2" y2="367.2"/>
<line x1="457.4" y1="302.0" x2="528.2" y2="341.3"/>
<line x1="453.6" y1="279.6" x2="529.3" y2="315.5"/>
<line x1="450.2" y1="263.1" x2="529.3" y2="289.7"/>
<line x1="451.1" y1="243.1" x2="530.4" y2="264.3"/>
<line x1="489.1" y1="196.1" x2="625.1" y2="290.4"/>
<line x1="555.4" y1="210.2" x2="624.6" y2="263.5"/>
<line x1="734.9" y1="109.8" x2="711.3" y2="201.7"/>
<line x1="766.9" y1="114.7" x2="753.8" y2="203.0"/>
<line x1="311.5" y1="196.9" x2="374.4" y2="244.0"/>
<line x1="310.8" y1="170.3" x2="355.3" y2="176.4"/>
<line x1="313.7" y1="143.8" x2="413.0" y2="123.6"/>
<line x1="313.7" y1="118.4" x2="413.0" y2="108.5"/>
<line x1="313.7" y1="92.6" x2="414.4" y2="92.6"/>
<line x1="313.7" y1="66.7" x2="414.4" y2="79.8"/>
<line x1="313.7" y1="43.4" x2="414.4" y2="64.0"/>
<line x1="313.7" y1="15.7" x2="417.5" y2="50.6"/>
<polyline points="528.0,183.3 543.0,179.7 625.1,237.6"/>
<polyline points="503.7,173.6 541.9,171.3 625.1,211.1"/>
</g>
<rect x="376" y="244.2" width="3" height="3" fill="#111"/>
<g font-family="'Liberation Sans',sans-serif" font-size="14.3" fill="#222" text-anchor="middle">
<text x="113.9" y="443.9">1</text>
<text x="152.1" y="443.9">2</text>
<text x="184.3" y="443.9">3</text>
<text x="220.7" y="443.9">4</text>
<text x="273.3" y="443.9">5</text>
<text x="312.1" y="443.9">6</text>
<text x="353.3" y="443.9">7</text>
<text x="390.3" y="443.9">8</text>
<text x="537.2" y="422.6">9</text>
<text x="541.3" y="397.1">10</text>
<text x="541.3" y="370.4">11</text>
<text x="541.3" y="346.1">12</text>
<text x="541.3" y="320.2">13</text>
<text x="541.3" y="294.4">14</text>
<text x="541.3" y="269.1">15</text>
<text x="635.7" y="293.4">16</text>
<text x="635.7" y="267.1">17</text>
<text x="635.7" y="242.3">18</text>
<text x="635.7" y="216.1">19</text>
<text x="710.1" y="217.2">20</text>
<text x="753.4" y="217.2">21</text>
<text x="300.3" y="198.1">22</text>
<text x="300.3" y="173.2">23</text>
<text x="300.3" y="147.4">24</text>
<text x="300.3" y="122.2">25</text>
<text x="300.3" y="96.8">26</text>
<text x="300.3" y="70.8">27</text>
<text x="300.3" y="46.2">28</text>
<text x="300.3" y="20.8">29</text>
</g>
</svg>
<svg id="grid" width="890" height="1264" viewBox="0 0 890 1264">
<rect x="0" y="526.50" width="890" height="24.50" fill="#a82a27"/>
<rect x="0" y="575.56" width="890" height="24.56" fill="#dedede"/>
<rect x="0" y="624.69" width="890" height="24.56" fill="#dedede"/>
<rect x="0" y="673.82" width="890" height="24.56" fill="#dedede"/>
<rect x="0" y="722.94" width="890" height="24.56" fill="#dedede"/>
<rect x="0" y="772.07" width="890" height="24.56" fill="#dedede"/>
<rect x="0" y="821.19" width="890" height="24.56" fill="#dedede"/>
<rect x="0" y="870.32" width="890" height="24.56" fill="#dedede"/>
<rect x="0" y="919.44" width="890" height="24.56" fill="#dedede"/>
<rect x="0" y="968.57" width="890" height="24.56" fill="#dedede"/>
<rect x="0" y="1017.70" width="890" height="24.56" fill="#dedede"/>
<rect x="0" y="1066.82" width="890" height="24.56" fill="#dedede"/>
<rect x="0" y="1115.95" width="890" height="24.56" fill="#dedede"/>
<rect x="0" y="1165.07" width="890" height="24.56" fill="#dedede"/>
<rect x="0" y="1214.20" width="890" height="24.56" fill="#dedede"/>
<rect x="0" y="575.11" width="890" height="1.1" fill="#555"/>
<rect x="0" y="599.68" width="890" height="1.1" fill="#555"/>
<rect x="0" y="624.24" width="890" height="1.1" fill="#555"/>
<rect x="0" y="648.80" width="890" height="1.1" fill="#555"/>
<rect x="0" y="673.37" width="890" height="1.1" fill="#555"/>
<rect x="0" y="697.93" width="890" height="1.1" fill="#555"/>
<rect x="0" y="722.49" width="890" height="1.1" fill="#555"/>
<rect x="0" y="747.05" width="890" height="1.1" fill="#555"/>
<rect x="0" y="771.62" width="890" height="1.1" fill="#555"/>
<rect x="0" y="796.18" width="890" height="1.1" fill="#555"/>
<rect x="0" y="820.74" width="890" height="1.1" fill="#555"/>
<rect x="0" y="845.31" width="890" height="1.1" fill="#555"/>
<rect x="0" y="869.87" width="890" height="1.1" fill="#555"/>
<rect x="0" y="894.43" width="890" height="1.1" fill="#555"/>
<rect x="0" y="918.99" width="890" height="1.1" fill="#555"/>
<rect x="0" y="943.56" width="890" height="1.1" fill="#555"/>
<rect x="0" y="968.12" width="890" height="1.1" fill="#555"/>
<rect x="0" y="992.68" width="890" height="1.1" fill="#555"/>
<rect x="0" y="1017.25" width="890" height="1.1" fill="#555"/>
<rect x="0" y="1041.81" width="890" height="1.1" fill="#555"/>
<rect x="0" y="1066.37" width="890" height="1.1" fill="#555"/>
<rect x="0" y="1090.94" width="890" height="1.1" fill="#555"/>
<rect x="0" y="1115.50" width="890" height="1.1" fill="#555"/>
<rect x="0" y="1140.06" width="890" height="1.1" fill="#555"/>
<rect x="0" y="1164.62" width="890" height="1.1" fill="#555"/>
<rect x="0" y="1189.19" width="890" height="1.1" fill="#555"/>
<rect x="0" y="1213.75" width="890" height="1.1" fill="#555"/>
<rect x="0" y="1238.31" width="890" height="1.1" fill="#555"/>
<rect x="0" y="1262.88" width="890" height="1.1" fill="#555"/>
<rect x="0" y="526.20" width="890" height="1" fill="#6a3a38"/>
<rect x="-0.15" y="551.00" width="1.50" height="713.00" fill="#555"/>
<rect x="-0.15" y="526.50" width="1.50" height="24.50" fill="#7a4a40"/>
<rect x="54.15" y="551.00" width="1.50" height="713.00" fill="#555"/>
<rect x="54.15" y="526.50" width="1.50" height="24.50" fill="#7a4a40"/>
<rect x="350.55" y="551.00" width="1.50" height="713.00" fill="#555"/>
<rect x="350.55" y="526.50" width="1.50" height="24.50" fill="#7a4a40"/>
<rect x="503.55" y="551.00" width="1.50" height="713.00" fill="#555"/>
<rect x="503.55" y="526.50" width="1.50" height="24.50" fill="#7a4a40"/>
<rect x="715.55" y="551.00" width="1.50" height="713.00" fill="#555"/>
<rect x="715.55" y="526.50" width="1.50" height="24.50" fill="#7a4a40"/>
<rect x="888.65" y="551.00" width="1.50" height="713.00" fill="#555"/>
<rect x="888.65" y="526.50" width="1.50" height="24.50" fill="#7a4a40"/>
</svg>
<svg style="position:absolute;left:0;top:488px" width="30" height="30" viewBox="0 488 30 30"><path d="M3.0 510.3 L4.4 511.4 L7.9 511.0 L15.9 497.4 Q16.6 496.0 16.0 495.2 L13.9 494.3 Q12.4 494.2 11.6 495.4 Z M11.1 507.0 Q11.6 508.9 12.6 509.3 L15.2 508.6 L18.9 508.3 Q19.8 506.4 19.4 504.6 L18.3 502.7 L17.2 504.0 L16.9 506.1 Q15.4 507.0 14.2 506.8 L11.9 506.0 Z" fill="#b21e22"/></svg>
<div class="ttl"><span class="tt" style="left:24.55px;top:497px;font-size:18.9px;letter-spacing:0.060px">零部件明细表</span> <span class="tt" style="left:144.38px;top:496px;font-size:23.6px;transform:scaleX(0.9720)">Components Material</span></div>
<div class="hdr"><span class="h" style="left:4.15px;top:531px;font-size:11.8px;letter-spacing:0.150px">序号</span> <span class="h" style="left:30.32px;top:532px;font-size:13.8px;transform:scaleX(1.0842)">NO</span> <span class="h" style="left:169.70px;top:531px;font-size:11.9px;letter-spacing:0.300px">名称</span> <span class="h" style="left:196.01px;top:532px;font-size:13.8px;transform:scaleX(1.0917)">Name</span> <span class="h" style="left:358.60px;top:533px;font-size:10.3px;letter-spacing:-0.150px">单台数量</span> <span class="h" style="left:403.77px;top:532px;font-size:13.8px;transform:scaleX(0.8527)">Qty for Each Unit</span> <span class="h" style="left:523.55px;top:531px;font-size:11.9px;letter-spacing:-0.167px">标准材料</span> <span class="h" style="left:573.40px;top:532px;font-size:13.8px;transform:scaleX(0.9952)">Standard Material</span> <span class="h" style="left:721.20px;top:532px;font-size:10.8px;letter-spacing:-0.200px">可选材料</span> <span class="h" style="left:766.10px;top:532px;font-size:13.8px;transform:scaleX(0.8989)">Materials Selectable</span></div>
<div class="row"><span class="n" style="left:1px;width:54px;top:557px">1</span> <span class="s" style="left:63.30px;top:557px;font-size:11.8px;letter-spacing:-0.100px">螺栓</span> <span class="s" style="left:89.37px;top:557px;font-size:13.5px;transform:scaleX(1.0292)">Bolt</span> <span class="n" style="left:352px;width:152px;top:557px">8</span> <span class="s" style="left:509.20px;top:557px;font-size:12.25px;letter-spacing:0.200px">不锈钢</span> <span class="s" style="left:549.36px;top:557px;font-size:13.5px;transform:scaleX(0.9892)">Stainless Steel</span></div>
<div class="row"><span class="n" style="left:1px;width:54px;top:581px">2</span> <span class="s" style="left:63.30px;top:581px;font-size:11.8px;letter-spacing:0.250px">螺栓垫片</span> <span class="s" style="left:113.32px;top:581px;font-size:13.5px;transform:scaleX(0.9826)">Bolt Washer</span> <span class="n" style="left:352px;width:152px;top:581px">8</span> <span class="s" style="left:509.20px;top:581px;font-size:12.25px;letter-spacing:0.200px">不锈钢</span> <span class="s" style="left:549.36px;top:581px;font-size:13.5px;transform:scaleX(0.9892)">Stainless Steel</span></div>
<div class="row"><span class="n" style="left:1px;width:54px;top:606px">3</span> <span class="s" style="left:63.30px;top:606px;font-size:11.8px;letter-spacing:-0.025px">左端盖</span> <span class="s" style="left:101.52px;top:606px;font-size:13.5px;transform:scaleX(0.9787)">Left Cover</span> <span class="n" style="left:352px;width:152px;top:606px">1</span> <span class="s" style="left:509.20px;top:606px;font-size:12.25px;letter-spacing:0.138px">压铸铝合金</span> <span class="s" style="left:574.50px;top:606px;font-size:13.5px;transform:scaleX(1.0267)">Aluminum Die Casting</span> <span class="s" style="left:741.46px;top:607px;font-size:11.75px;letter-spacing:0.170px">不锈钢</span> <span class="s" style="left:780.08px;top:606px;font-size:13.5px;transform:scaleX(0.9561)">Stainless Steel</span></div>
<div class="row"><span class="n" style="left:1px;width:54px;top:630px">4</span> <span class="s" style="left:63.05px;top:630px;font-size:11.8px;letter-spacing:0.083px">弹簧组件</span> <span class="s" style="left:113.55px;top:630px;font-size:13.5px;transform:scaleX(0.9941)">Spring Components</span> <span class="n" style="left:352px;width:152px;top:630px">5-12</span> <span class="s" style="left:509.20px;top:630px;font-size:12.25px;letter-spacing:0.200px">合金弹簧钢</span> <span class="s" style="left:574.50px;top:630px;font-size:13.5px;transform:scaleX(1.0156)">Alloy Spring Steel</span></div>
<div class="row"><span class="n" style="left:1px;width:54px;top:655px">5</span> <span class="s" style="left:63.30px;top:655px;font-size:11.8px;letter-spacing:0.100px">活塞环</span> <span class="s" style="left:101.52px;top:655px;font-size:13.5px;transform:scaleX(0.9829)">Piston Ring</span> <span class="n" style="left:352px;width:152px;top:655px">2</span>  <span class="s" style="left:509.61px;top:655px;font-size:13.5px;transform:scaleX(0.9913)">POM</span></div>
<div class="row"><span class="n" style="left:1px;width:54px;top:679px">6</span> <span class="s" style="left:63.35px;top:679px;font-size:13.5px">O</span><span class="s" style="left:73.82px;top:679px;font-size:11.8px;transform:scaleX(0.9663)">型圈</span><span class="s" style="left:93.75px;top:679px;font-size:11.8px">（</span><span class="s" style="left:108.40px;top:679px;font-size:11.8px;letter-spacing:0.400px">活塞</span><span class="s" style="left:135.55px;top:679px;font-size:11.8px">）</span> <span class="s" style="left:150.60px;top:679px;font-size:13px">“</span><span class="s" style="left:156.10px;top:679px;font-size:12.6px">O</span><span class="s" style="left:165.90px;top:679px;font-size:13px">”</span><span class="s" style="left:177.60px;top:679px;font-size:13.5px;transform:scaleX(1.0020)">Ring (piston)</span> <span class="n" style="left:352px;width:152px;top:679px">2</span> <span class="s" style="left:508.95px;top:679px;font-size:12.25px;letter-spacing:0.183px">丁腈橡胶</span> <span class="s" style="left:562.18px;top:679px;font-size:13.5px;transform:scaleX(0.9159)">NBR</span></div>
<div class="row"><span class="n" style="left:1px;width:54px;top:704px">7</span> <span class="s" style="left:63.30px;top:704px;font-size:11.8px;letter-spacing:0.150px">活塞</span> <span class="s" style="left:89.38px;top:704px;font-size:13.5px;transform:scaleX(1.0182)">Piston</span> <span class="n" style="left:352px;width:152px;top:704px">2</span> <span class="s" style="left:509.20px;top:704px;font-size:12.25px;letter-spacing:0.163px">压铸铝合金</span><span class="s" style="left:571.40px;top:704px;font-size:13.5px;transform:scaleX(1.0230)">Aluminum Die Casting</span></div>
<div class="row"><span class="n" style="left:1px;width:54px;top:728px">8</span> <span class="s" style="left:63.05px;top:728px;font-size:11.8px;letter-spacing:0.225px">导向环</span> <span class="s" style="left:101.78px;top:728px;font-size:13.5px;transform:scaleX(0.9652)">Guide Ring</span> <span class="n" style="left:352px;width:152px;top:728px">2</span>  <span class="s" style="left:509.65px;top:728px;font-size:13.5px;transform:scaleX(0.9500)">Pa66</span></div>
<div class="row"><span class="n" style="left:1px;width:54px;top:753px">9</span> <span class="s" style="left:63.30px;top:753px;font-size:11.8px;letter-spacing:-0.300px">轴承</span><span class="s" style="left:82.95px;top:753px;font-size:11.8px">（</span><span class="s" style="left:98.30px;top:753px;font-size:11.8px;letter-spacing:0.400px">轴下</span><span class="s" style="left:127.55px;top:753px;font-size:11.8px">）</span><span class="s" style="left:134.17px;top:753px;font-size:13.5px;transform:scaleX(1.0266)">Bearing (output shaft bottom)</span> <span class="n" style="left:352px;width:152px;top:753px">1</span>  <span class="s" style="left:509.61px;top:753px;font-size:13.5px;transform:scaleX(0.9913)">POM</span></div>
<div class="row"><span class="n" style="left:1px;width:54px;top:778px">10</span> <span class="s" style="left:63.35px;top:778px;font-size:13.5px">O</span><span class="s" style="left:73.82px;top:778px;font-size:11.8px;transform:scaleX(0.9663)">型圈</span><span class="s" style="left:93.75px;top:778px;font-size:11.8px">（</span><span class="s" style="left:108.40px;top:778px;font-size:11.8px;letter-spacing:0.400px">轴下</span><span class="s" style="left:135.55px;top:778px;font-size:11.8px">）</span> <span class="s" style="left:150.60px;top:778px;font-size:13px">“</span><span class="s" style="left:156.10px;top:778px;font-size:12.6px">O</span><span class="s" style="left:165.90px;top:778px;font-size:13px">”</span><span class="s" style="left:177.37px;top:778px;font-size:13.5px;transform:scaleX(1.0308)">Ring (output shaft bottom)</span> <span class="n" style="left:352px;width:152px;top:778px">1</span> <span class="s" style="left:508.95px;top:778px;font-size:12.25px;letter-spacing:0.183px">丁腈橡胶</span> <span class="s" style="left:562.18px;top:778px;font-size:13.5px;transform:scaleX(0.9159)">NBR</span> <span class="s" style="left:741.21px;top:779px;font-size:11.75px;letter-spacing:-0.022px">氟橡胶硅橡胶</span> <span class="s" style="left:814.59px;top:778px;font-size:13.5px;transform:scaleX(1.0098)">FPM/Q</span></div>
<div class="row"><span class="n" style="left:1px;width:54px;top:802px">11</span> <span class="s" style="left:63.30px;top:802px;font-size:11.8px;letter-spacing:0.225px">输出轴</span> <span class="s" style="left:101.75px;top:802px;font-size:13.5px;transform:scaleX(1.0067)">Output Shaft</span> <span class="n" style="left:352px;width:152px;top:802px">1</span> <span class="s" style="left:509.18px;top:802px;font-size:12.25px;transform:scaleX(1.0409)">碳钢</span> <span class="s" style="left:536.84px;top:802px;font-size:13.5px;transform:scaleX(1.0110)">Carbon Steel</span> <span class="s" style="left:741.46px;top:803px;font-size:11.75px;letter-spacing:0.170px">不锈钢</span> <span class="s" style="left:780.08px;top:802px;font-size:13.5px;transform:scaleX(0.9561)">Stainless Steel</span></div>
<div class="row"><span class="n" style="left:1px;width:54px;top:827px">12</span> <span class="s" style="left:62.50px;top:827px;font-size:11.8px;transform:scaleX(1.0414)">凸轮</span> <span class="s" style="left:89.68px;top:827px;font-size:13.5px;transform:scaleX(0.9570)">Cam</span> <span class="n" style="left:352px;width:152px;top:827px">1</span> <span class="s" style="left:509.20px;top:827px;font-size:12.25px;letter-spacing:0.200px">不锈钢</span> <span class="s" style="left:549.36px;top:827px;font-size:13.5px;transform:scaleX(0.9892)">Stainless Steel</span></div>
<div class="row"><span class="n" style="left:1px;width:54px;top:851px">13</span> <span class="s" style="left:63.29px;top:851px;font-size:11.8px;transform:scaleX(1.0295)">垫片</span> <span class="s" style="left:89.70px;top:851px;font-size:13.5px;transform:scaleX(0.9381)">Gasket</span> <span class="n" style="left:352px;width:152px;top:851px">1</span>  <span class="s" style="left:509.61px;top:851px;font-size:13.5px;transform:scaleX(0.9913)">POM</span></div>
<div class="row"><span class="n" style="left:1px;width:54px;top:876px">14</span> <span class="s" style="left:63.30px;top:876px;font-size:11.8px;letter-spacing:-0.300px">轴承</span><span class="s" style="left:82.95px;top:876px;font-size:11.8px">（</span><span class="s" style="left:98.30px;top:876px;font-size:11.8px;letter-spacing:0.400px">轴上</span><span class="s" style="left:127.55px;top:876px;font-size:11.8px">）</span><span class="s" style="left:134.20px;top:876px;font-size:13.5px;transform:scaleX(0.9954)">Bearing (at the top of the shaft)</span> <span class="n" style="left:352px;width:152px;top:876px">1</span>  <span class="s" style="left:509.61px;top:876px;font-size:13.5px;transform:scaleX(0.9913)">POM</span></div>
<div class="row"><span class="n" style="left:1px;width:54px;top:900px">15</span> <span class="s" style="left:63.35px;top:900px;font-size:13.5px">O</span><span class="s" style="left:73.82px;top:900px;font-size:11.8px;transform:scaleX(0.9663)">型圈</span><span class="s" style="left:93.75px;top:900px;font-size:11.8px">（</span><span class="s" style="left:108.40px;top:900px;font-size:11.8px;letter-spacing:0.400px">轴上</span><span class="s" style="left:135.55px;top:900px;font-size:11.8px">）</span> <span class="s" style="left:150.60px;top:900px;font-size:13px">“</span><span class="s" style="left:156.10px;top:900px;font-size:12.6px">O</span><span class="s" style="left:165.90px;top:900px;font-size:13px">”</span><span class="s" style="left:177.40px;top:900px;font-size:13.5px;transform:scaleX(0.9958)">Ring (at the top of the shaft)</span> <span class="n" style="left:352px;width:152px;top:900px">1</span> <span class="s" style="left:508.95px;top:900px;font-size:12.25px;letter-spacing:0.183px">丁腈橡胶</span> <span class="s" style="left:562.18px;top:900px;font-size:13.5px;transform:scaleX(0.9159)">NBR</span> <span class="s" style="left:741.21px;top:901px;font-size:11.75px;letter-spacing:-0.022px">氟橡胶硅橡胶</span> <span class="s" style="left:814.59px;top:900px;font-size:13.5px;transform:scaleX(1.0098)">FPM/Q</span></div>
<div class="row"><span class="n" style="left:1px;width:54px;top:925px">16</span> <span class="s" style="left:63.30px;top:925px;font-size:11.8px;letter-spacing:0.150px">螺母</span> <span class="s" style="left:89.34px;top:925px;font-size:13.5px;transform:scaleX(1.0600)">Nut</span> <span class="n" style="left:352px;width:152px;top:925px">2</span> <span class="s" style="left:509.20px;top:925px;font-size:12.25px;letter-spacing:0.200px">不锈钢</span> <span class="s" style="left:549.36px;top:925px;font-size:13.5px;transform:scaleX(0.9892)">Stainless Steel</span></div>
<div class="row"><span class="n" style="left:1px;width:54px;top:950px">17</span> <span class="s" style="left:63.30px;top:950px;font-size:11.8px">调节螺栓</span> <span class="s" style="left:114.30px;top:950px;font-size:13.5px;transform:scaleX(1.0127)">Adjustment Bolt</span> <span class="n" style="left:352px;width:152px;top:950px">2</span> <span class="s" style="left:509.20px;top:950px;font-size:12.25px;letter-spacing:0.200px">不锈钢</span> <span class="s" style="left:549.36px;top:950px;font-size:13.5px;transform:scaleX(0.9892)">Stainless Steel</span></div>
<div class="row"><span class="n" style="left:1px;width:54px;top:974px">18</span> <span class="s" style="left:63.29px;top:974px;font-size:11.8px;transform:scaleX(1.0295)">垫片</span> <span class="s" style="left:89.70px;top:974px;font-size:13.5px;transform:scaleX(0.9381)">Gasket</span> <span class="n" style="left:352px;width:152px;top:974px">2</span> <span class="s" style="left:509.20px;top:974px;font-size:12.25px;letter-spacing:0.200px">不锈钢</span> <span class="s" style="left:549.36px;top:974px;font-size:13.5px;transform:scaleX(0.9892)">Stainless Steel</span> <span class="s" style="left:741.21px;top:975px;font-size:11.75px;letter-spacing:-0.022px">氟橡胶硅橡胶</span> <span class="s" style="left:814.59px;top:974px;font-size:13.5px;transform:scaleX(1.0098)">FPM/Q</span></div>
<div class="row"><span class="n" style="left:1px;width:54px;top:999px">19</span> <span class="s" style="left:63.35px;top:999px;font-size:13.5px">O</span><span class="s" style="left:73.82px;top:999px;font-size:11.8px;transform:scaleX(0.9663)">型圈</span><span class="s" style="left:93.75px;top:999px;font-size:11.8px">（</span><span class="s" style="left:108.40px;top:999px;font-size:11.8px;letter-spacing:0.017px">调节螺栓</span><span class="s" style="left:158.95px;top:999px;font-size:11.8px">）</span> <span class="s" style="left:174.00px;top:999px;font-size:13px">“</span><span class="s" style="left:179.50px;top:999px;font-size:12.6px">O</span><span class="s" style="left:189.30px;top:999px;font-size:13px">”</span> <span class="s" style="left:203.98px;top:999px;font-size:13.5px;transform:scaleX(1.0199)">Ring (adjusting bolt)</span> <span class="n" style="left:352px;width:152px;top:999px">2</span> <span class="s" style="left:508.95px;top:999px;font-size:12.25px;letter-spacing:0.183px">丁腈橡胶</span> <span class="s" style="left:562.18px;top:999px;font-size:13.5px;transform:scaleX(0.9159)">NBR</span> <span class="s" style="left:741.21px;top:1000px;font-size:11.75px;letter-spacing:-0.022px">氟橡胶硅橡胶</span> <span class="s" style="left:814.59px;top:999px;font-size:13.5px;transform:scaleX(1.0098)">FPM/Q</span></div>
<div class="row"><span class="n" style="left:1px;width:54px;top:1023px">20</span> <span class="s" style="left:63.35px;top:1023px;font-size:13.5px">O</span><span class="s" style="left:73.82px;top:1023px;font-size:11.8px;transform:scaleX(0.9663)">型圈</span><span class="s" style="left:93.75px;top:1023px;font-size:11.8px">（</span><span class="s" style="left:108.40px;top:1023px;font-size:11.8px;letter-spacing:0.400px">端盖</span><span class="s" style="left:135.55px;top:1023px;font-size:11.8px">）</span> <span class="s" style="left:150.60px;top:1023px;font-size:13px">“</span><span class="s" style="left:156.10px;top:1023px;font-size:12.6px">O</span><span class="s" style="left:165.90px;top:1023px;font-size:13px">”</span> <span class="s" style="left:179.71px;top:1023px;font-size:13.5px;transform:scaleX(0.9902)">Rring (cover)</span> <span class="n" style="left:352px;width:152px;top:1023px">2</span> <span class="s" style="left:508.95px;top:1023px;font-size:12.25px;letter-spacing:0.183px">丁腈橡胶</span> <span class="s" style="left:562.18px;top:1023px;font-size:13.5px;transform:scaleX(0.9159)">NBR</span> <span class="s" style="left:741.46px;top:1024px;font-size:11.75px;letter-spacing:0.170px">不锈钢</span> <span class="s" style="left:780.08px;top:1023px;font-size:13.5px;transform:scaleX(0.9561)">Stainless Steel</span></div>
<div class="row"><span class="n" style="left:1px;width:54px;top:1048px">21</span> <span class="s" style="left:63.30px;top:1048px;font-size:11.8px;letter-spacing:-0.025px">右端盖</span> <span class="s" style="left:101.53px;top:1048px;font-size:13.5px;transform:scaleX(0.9729)">Right Cover</span> <span class="n" style="left:352px;width:152px;top:1048px">1</span> <span class="s" style="left:509.20px;top:1048px;font-size:12.25px;letter-spacing:0.138px">压铸铝合金</span> <span class="s" style="left:574.50px;top:1048px;font-size:13.5px;transform:scaleX(1.0267)">Aluminum Die Casting</span> <span class="s" style="left:741.21px;top:1049px;font-size:11.75px;letter-spacing:-0.022px">氟橡胶硅橡胶</span> <span class="s" style="left:814.59px;top:1048px;font-size:13.5px;transform:scaleX(1.0098)">FPM/Q</span></div>
<div class="row"><span class="n" style="left:1px;width:54px;top:1072px">22</span> <span class="s" style="left:63.30px;top:1072px;font-size:11.8px;letter-spacing:0.150px">堵头</span> <span class="s" style="left:89.37px;top:1072px;font-size:13.5px;transform:scaleX(1.0257)">Plug</span> <span class="n" style="left:352px;width:152px;top:1072px">1</span> <span class="s" style="left:508.95px;top:1072px;font-size:12.25px;letter-spacing:0.183px">丁腈橡胶</span> <span class="s" style="left:562.18px;top:1072px;font-size:13.5px;transform:scaleX(0.9159)">NBR</span> <span class="s" style="left:741.46px;top:1073px;font-size:11.75px;letter-spacing:0.170px">不锈钢</span> <span class="s" style="left:780.08px;top:1072px;font-size:13.5px;transform:scaleX(0.9561)">Stainless Steel</span></div>
<div class="row"><span class="n" style="left:1px;width:54px;top:1097px">23</span> <span class="s" style="left:63.30px;top:1097px;font-size:11.8px;letter-spacing:-0.100px">缸体</span> <span class="s" style="left:89.43px;top:1097px;font-size:13.5px;transform:scaleX(0.9688)">Block</span> <span class="n" style="left:352px;width:152px;top:1097px">1</span> <span class="s" style="left:509.20px;top:1097px;font-size:12.25px;letter-spacing:0.212px">挤压铝合金</span> <span class="s" style="left:574.90px;top:1097px;font-size:13.5px;transform:scaleX(1.0365)">Aluminum Extrusion</span></div>
<div class="row"><span class="n" style="left:1px;width:54px;top:1121px">24</span> <span class="s" style="left:63.29px;top:1121px;font-size:11.8px;transform:scaleX(1.0295)">垫片</span> <span class="s" style="left:89.70px;top:1121px;font-size:13.5px;transform:scaleX(0.9381)">Gasket</span> <span class="n" style="left:352px;width:152px;top:1121px">1</span>  <span class="s" style="left:509.61px;top:1121px;font-size:13.5px;transform:scaleX(0.9913)">POM</span></div>
<div class="row"><span class="n" style="left:1px;width:54px;top:1146px">25</span> <span class="s" style="left:63.29px;top:1146px;font-size:11.8px;transform:scaleX(1.0295)">垫片</span> <span class="s" style="left:89.70px;top:1146px;font-size:13.5px;transform:scaleX(0.9381)">Gasket</span> <span class="n" style="left:352px;width:152px;top:1146px">1</span> <span class="s" style="left:509.20px;top:1146px;font-size:12.25px;letter-spacing:0.200px">不锈钢</span> <span class="s" style="left:549.36px;top:1146px;font-size:13.5px;transform:scaleX(0.9892)">Stainless Steel</span></div>
<div class="row"><span class="n" style="left:1px;width:54px;top:1171px">26</span> <span class="s" style="left:63.30px;top:1171px;font-size:11.8px;letter-spacing:0.167px">轴用挡圈</span> <span class="s" style="left:113.56px;top:1171px;font-size:13.5px;transform:scaleX(0.9805)">Shaft Ring</span> <span class="n" style="left:352px;width:152px;top:1171px">1</span> <span class="s" style="left:509.20px;top:1171px;font-size:12.25px;letter-spacing:0.200px">不锈钢</span> <span class="s" style="left:549.36px;top:1171px;font-size:13.5px;transform:scaleX(0.9892)">Stainless Steel</span></div>
<div class="row"><span class="n" style="left:1px;width:54px;top:1195px">27</span> <span class="s" style="left:63.30px;top:1195px;font-size:11.8px;letter-spacing:0.020px">指示器固定架</span> <span class="s" style="left:136.92px;top:1195px;font-size:13.5px;transform:scaleX(1.0237)">Indicator Supporting Structure</span> <span class="n" style="left:352px;width:152px;top:1195px">1</span>  <span class="s" style="left:510.10px;top:1195px;font-size:13.5px;transform:scaleX(0.8755)">ABS</span></div>
<div class="row"><span class="n" style="left:1px;width:54px;top:1220px">28</span> <span class="s" style="left:63.30px;top:1220px;font-size:11.8px;letter-spacing:0.012px">指示器主体</span> <span class="s" style="left:125.50px;top:1220px;font-size:13.5px;transform:scaleX(1.0032)">Main Body of the Indicator</span> <span class="n" style="left:352px;width:152px;top:1220px">1</span>  <span class="s" style="left:510.10px;top:1220px;font-size:13.5px;transform:scaleX(0.8755)">ABS</span></div>
<div class="row"><span class="n" style="left:1px;width:54px;top:1244px">29</span> <span class="s" style="left:63.30px;top:1244px;font-size:11.8px;letter-spacing:-0.100px">螺钉</span> <span class="s" style="left:89.37px;top:1244px;font-size:13.5px;transform:scaleX(1.0292)">Bolt</span> <span class="n" style="left:352px;width:152px;top:1244px">1</span>  <span class="s" style="left:510.10px;top:1244px;font-size:13.5px;transform:scaleX(0.8755)">ABS</span></div>
</div></body></html>
